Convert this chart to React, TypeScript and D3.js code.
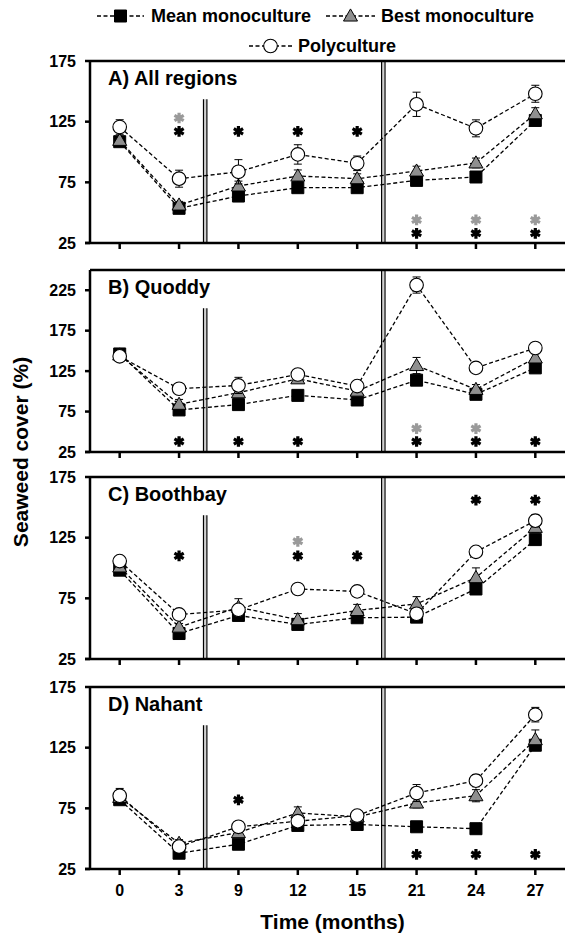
import React from "react";
import * as d3 from "d3";

const timeLabels = ["0", "3", "9", "12", "15", "21", "24", "27"];
const seriesNames = ["Mean monoculture", "Best monoculture", "Polyculture"];

const panelTitles = ["A) All regions", "B) Quoddy", "C) Boothbay", "D) Nahant"];
const panelMax = [175, 250, 175, 175];
const panelTicks = [
  [25, 75, 125, 175],
  [25, 75, 125, 175, 225],
  [25, 75, 125, 175],
  [25, 75, 125, 175],
];

// A) All regions
const meanA = [108.5, 53.6, 63.7, 70.6, 70.6, 76.6, 79.4, 126];
const meanErrA = [3, 3, 3, 3, 3, 3, 3, 3];
const bestA = [109.6, 56.3, 72, 80.2, 78, 84.3, 91, 131.5];
const bestErrA = [3, 3, 4, 5, 4, 4, 4, 5];
const polyA = [120.6, 78, 83.7, 98, 90.7, 139.3, 119.5, 148];
const polyErrA = [6, 7, 10, 8, 6, 10, 7, 7];

// B) Quoddy
const meanB = [146.2, 77, 83.6, 95, 89.3, 113.8, 96.3, 129];
const meanErrB = [3, 3, 3, 3, 3, 6, 3, 3];
const bestB = [145, 84, 98.3, 115.5, 100.3, 131.9, 102.4, 141.3];
const bestErrB = [3, 6, 4, 4, 3, 10, 6, 5];
const polyB = [143.3, 103.2, 107.3, 120.8, 106.5, 231.4, 129, 153.6];
const polyErrB = [3, 4, 10, 6, 4, 10, 4, 6];

// C) Boothbay
const meanC = [98.2, 46, 60.9, 53.5, 59, 59.5, 82.7, 123.4];
const meanErrC = [3, 3, 3, 3, 3, 3, 3, 3];
const bestC = [100.9, 51.3, 67.7, 57.4, 65, 70.4, 92.1, 133.5];
const bestErrC = [3, 3, 7, 5, 5, 6, 8, 4];
const polyC = [105.7, 61.7, 65.5, 82.7, 80.7, 62.3, 113.3, 139];
const polyErrC = [3, 4, 4, 3, 4, 3, 3, 5];

// D) Nahant
const meanD = [82.1, 38, 45.4, 60.9, 61.7, 59.8, 58.2, 127];
const meanErrD = [3, 3, 3, 3, 3, 3, 3, 3];
const bestD = [84, 46.2, 55, 71.2, 68, 79.4, 85.4, 131.6];
const bestErrD = [3, 3, 3, 5, 3, 4, 5, 8];
const polyD = [85.4, 43.5, 59.8, 64.4, 69, 87.6, 97.8, 152.2];
const polyErrD = [6, 3, 3, 3, 4, 7, 5, 6];

// significance asterisks: [time index, y value]
const blackStarsA = [[1, 117], [2, 117], [3, 117], [4, 117], [5, 33], [6, 33], [7, 33]];
const grayStarsA = [[1, 128], [5, 44], [6, 44], [7, 44]];
const blackStarsB = [[1, 38], [2, 38], [3, 38], [5, 38], [6, 38], [7, 38]];
const grayStarsB = [[5, 54], [6, 54]];
const blackStarsC = [[1, 110], [3, 110], [4, 110], [6, 156], [7, 156]];
const grayStarsC = [[3, 122]];
const blackStarsD = [[2, 82], [5, 37], [6, 37], [7, 37]];
const grayStarsD: number[][] = [];

// period dividers (positions in time-index units)
const dividers = [1.44, 4.44];

const panels = [
  { mean: meanA, meanErr: meanErrA, best: bestA, bestErr: bestErrA, poly: polyA, polyErr: polyErrA, black: blackStarsA, gray: grayStarsA },
  { mean: meanB, meanErr: meanErrB, best: bestB, bestErr: bestErrB, poly: polyB, polyErr: polyErrB, black: blackStarsB, gray: grayStarsB },
  { mean: meanC, meanErr: meanErrC, best: bestC, bestErr: bestErrC, poly: polyC, polyErr: polyErrC, black: blackStarsC, gray: grayStarsC },
  { mean: meanD, meanErr: meanErrD, best: bestD, bestErr: bestErrD, poly: polyD, polyErr: polyErrD, black: blackStarsD, gray: grayStarsD },
];

const W = 565;
const H = 935;
const FONT = "Arial, 'Liberation Sans', sans-serif";
const panelTops = [61, 270, 477, 687];
const panelH = 182;
const axisLeft = 90;
const GRAY_FILL = "#8f8f8f";
const GRAY_STAR = "#9a9a9a";

const xPos = d3.scaleLinear().domain([-0.5, 7.5]).range([axisLeft, W]);

const triPath = d3.symbol(d3.symbolTriangle, 85)() as string;
const sqPath = d3.symbol(d3.symbolSquare, 144)() as string;
const starPath = d3.symbol(d3.symbolAsterisk, 80)() as string;

function Marker({ kind, cx, cy }: { kind: number; cx: number; cy: number }) {
  if (kind === 0) return <path d={sqPath} transform={`translate(${cx},${cy})`} fill="#000" stroke="#000" strokeWidth={1} />;
  if (kind === 1) return <path d={triPath} transform={`translate(${cx},${cy + 1})`} fill={GRAY_FILL} stroke="#000" strokeWidth={1} />;
  return <circle cx={cx} cy={cy} r={6.8} fill="#fff" stroke="#000" strokeWidth={1.1} />;
}

function Panel({ idx }: { idx: number }) {
  const p = panels[idx];
  const top = panelTops[idx];
  const bottom = top + panelH;
  const y = d3.scaleLinear().domain([25, panelMax[idx]]).range([bottom, top]);
  const line = d3
    .line<number>()
    .x((_, i) => xPos(i))
    .y((d) => y(d));
  const series = [
    { v: p.mean, e: p.meanErr },
    { v: p.best, e: p.bestErr },
    { v: p.poly, e: p.polyErr },
  ];
  return (
    <g>
      {dividers.map((dv, k) => {
        const xx = xPos(dv);
        const y0 = k === 0 ? top + panelH * 0.21 : top;
        return (
          <g key={k}>
            <line x1={xx} x2={xx} y1={y0} y2={bottom} stroke="#d0d0d0" strokeWidth={2.2} />
            <line x1={xx - 1.7} x2={xx - 1.7} y1={y0} y2={bottom} stroke="#000" strokeWidth={1.2} />
            <line x1={xx + 1.7} x2={xx + 1.7} y1={y0} y2={bottom} stroke="#000" strokeWidth={1.2} />
          </g>
        );
      })}
      {series.map((s, k) => (
        <path key={k} d={line(s.v) as string} fill="none" stroke="#000" strokeWidth={1.3} strokeDasharray="4 2.5" />
      ))}
      {series.map((s, k) => (
        <g key={k}>
          {s.v.map((v, i) => {
            const cx = xPos(i);
            const yt = y(v + s.e[i]);
            const yb = y(v - s.e[i]);
            return (
              <g key={i}>
                <line x1={cx} x2={cx} y1={yt} y2={yb} stroke="#000" strokeWidth={1} />
                <line x1={cx - 4} x2={cx + 4} y1={yt} y2={yt} stroke="#000" strokeWidth={1} />
                <line x1={cx - 4} x2={cx + 4} y1={yb} y2={yb} stroke="#000" strokeWidth={1} />
              </g>
            );
          })}
          {s.v.map((v, i) => (
            <Marker key={i} kind={k} cx={xPos(i)} cy={y(v)} />
          ))}
        </g>
      ))}
      {p.gray.map(([i, v], k) => (
        <path key={"g" + k} d={starPath} transform={`translate(${xPos(i)},${y(v)})`} fill="none" stroke={GRAY_STAR} strokeWidth={3.2} />
      ))}
      {p.black.map(([i, v], k) => (
        <path key={"b" + k} d={starPath} transform={`translate(${xPos(i)},${y(v)})`} fill="none" stroke="#000" strokeWidth={3.2} />
      ))}
      <line x1={axisLeft} x2={W} y1={top} y2={top} stroke="#000" strokeWidth={2.5} />
      <line x1={axisLeft} x2={axisLeft} y1={top} y2={bottom} stroke="#000" strokeWidth={2.5} />
      <line x1={axisLeft - 5} x2={W} y1={bottom} y2={bottom} stroke="#000" strokeWidth={2.5} />
      {panelTicks[idx].map((t) => (
        <g key={t}>
          <line x1={axisLeft - 5} x2={axisLeft} y1={y(t)} y2={y(t)} stroke="#000" strokeWidth={2.5} />
          <text x={axisLeft - 14} y={y(t)} dy="0.36em" textAnchor="end" fontFamily={FONT} fontWeight="bold" fontSize={16} fill="#000">
            {t}
          </text>
        </g>
      ))}
      {timeLabels.map((_, i) => (
        <line key={i} x1={xPos(i)} x2={xPos(i)} y1={bottom} y2={bottom + 6} stroke="#000" strokeWidth={2.5} />
      ))}
      <text x={108} y={top + 24} fontFamily={FONT} fontWeight="bold" fontSize={20} fill="#000">
        {panelTitles[idx]}
      </text>
    </g>
  );
}

function Legend() {
  const items = [
    { kind: 0, x0: 97, x1: 144, tx: 151, y: 16, label: seriesNames[0] },
    { kind: 1, x0: 326, x1: 375, tx: 381, y: 16, label: seriesNames[1] },
    { kind: 2, x0: 249, x1: 292, tx: 298, y: 46, label: seriesNames[2] },
  ];
  return (
    <g>
      {items.map((it, k) => (
        <g key={k}>
          <line x1={it.x0} x2={it.x1} y1={it.y} y2={it.y} stroke="#000" strokeWidth={1.3} strokeDasharray="4 2.5" />
          <Marker kind={it.kind} cx={(it.x0 + it.x1) / 2} cy={it.y} />
          <text x={it.tx} y={it.y} dy="0.36em" fontFamily={FONT} fontWeight="bold" fontSize={18} fill="#000">
            {it.label}
          </text>
        </g>
      ))}
    </g>
  );
}

export default function App() {
  const lastBottom = panelTops[3] + panelH;
  return (
    <svg width={W} height={H} style={{ position: "absolute", left: 0, top: 0, background: "#fff" }}>
      <rect width={W} height={H} fill="#fff" />
      <Legend />
      {panels.map((_, i) => (
        <Panel key={i} idx={i} />
      ))}
      {timeLabels.map((t, i) => (
        <text key={t} x={xPos(i)} y={lastBottom + 21} dy="0.36em" textAnchor="middle" fontFamily={FONT} fontWeight="bold" fontSize={16} fill="#000">
          {t}
        </text>
      ))}
      <text x={(axisLeft + W) / 2 + 5} y={lastBottom + 52} dy="0.36em" textAnchor="middle" fontFamily={FONT} fontWeight="bold" fontSize={21} fill="#000">
        Time (months)
      </text>
      <text transform={`translate(20,452) rotate(-90)`} dy="0.36em" textAnchor="middle" fontFamily={FONT} fontWeight="bold" fontSize={21} fill="#000">
        Seaweed cover (%)
      </text>
    </svg>
  );
}
